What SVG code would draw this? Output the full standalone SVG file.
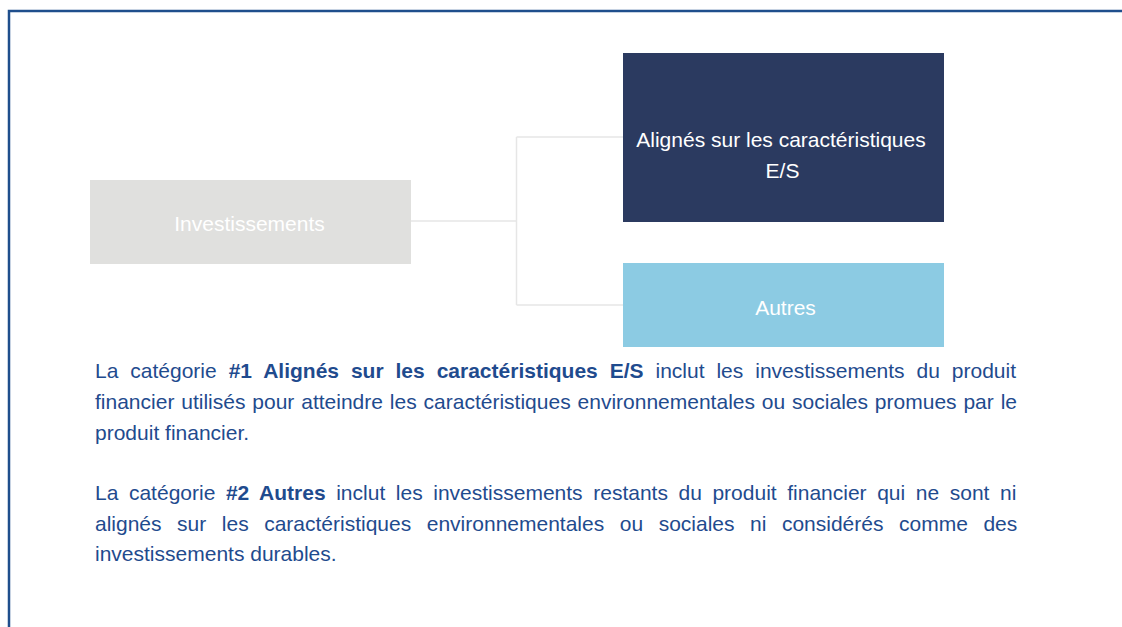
<svg xmlns="http://www.w3.org/2000/svg" width="1122" height="627" viewBox="0 0 1122 627">
<style>
.frame{fill:none;stroke:#1f4e8c;stroke-width:2.5}
.conn{fill:none;stroke:#e6e6e6;stroke-width:1.5}
.lbl{font-family:"Liberation Sans",Arial,Helvetica,sans-serif;font-size:21px;fill:#ffffff;text-anchor:middle}
.para{font-family:"Liberation Sans",Arial,Helvetica,sans-serif;font-size:21px;fill:#1f4b8e}
.b{font-weight:bold}
</style>
<rect x="0" y="0" width="1122" height="627" fill="#ffffff"/>
<path class="frame" d="M9,627 V11 H1122"/>
<g id="connectors">
<path class="conn" d="M411,221 H516.5"/>
<path class="conn" d="M516.5,137 V305"/>
<path class="conn" d="M516.5,137 H623"/>
<path class="conn" d="M516.5,305 H623"/>
</g>
<g id="node-investissements">
<rect x="90" y="180" width="321" height="84" fill="#e0e0de"/>
<text class="lbl" x="249.5" y="231">Investissements</text>
</g>
<g id="node-alignes">
<rect x="623" y="53" width="321" height="169" fill="#2b3a60"/>
<text class="lbl" x="781" y="147">Alignés sur les caractéristiques</text>
<text class="lbl" x="782.5" y="177.5">E/S</text>
</g>
<g id="node-autres">
<rect x="623" y="263" width="321" height="84" fill="#8ccbe3"/>
<text class="lbl" x="785.5" y="315">Autres</text>
</g>
<g id="legend">
<text class="para" x="95" y="378" style="word-spacing:6.1px">La catégorie <tspan class="b">#1 Alignés sur les caractéristiques E/S</tspan> inclut les investissements du produit</text>
<text class="para" x="95" y="409" style="word-spacing:1.05px">financier utilisés pour atteindre les caractéristiques environnementales ou sociales promues par le</text>
<text class="para" x="95" y="440">produit financier.</text>
<text class="para" x="95" y="500" style="word-spacing:4.75px">La catégorie <tspan class="b">#2 Autres</tspan> inclut les investissements restants du produit financier qui ne sont ni</text>
<text class="para" x="95" y="530.5" style="word-spacing:9.7px">alignés sur les caractéristiques environnementales ou sociales ni considérés comme des</text>
<text class="para" x="95" y="561">investissements durables.</text>
</g>
</svg>
